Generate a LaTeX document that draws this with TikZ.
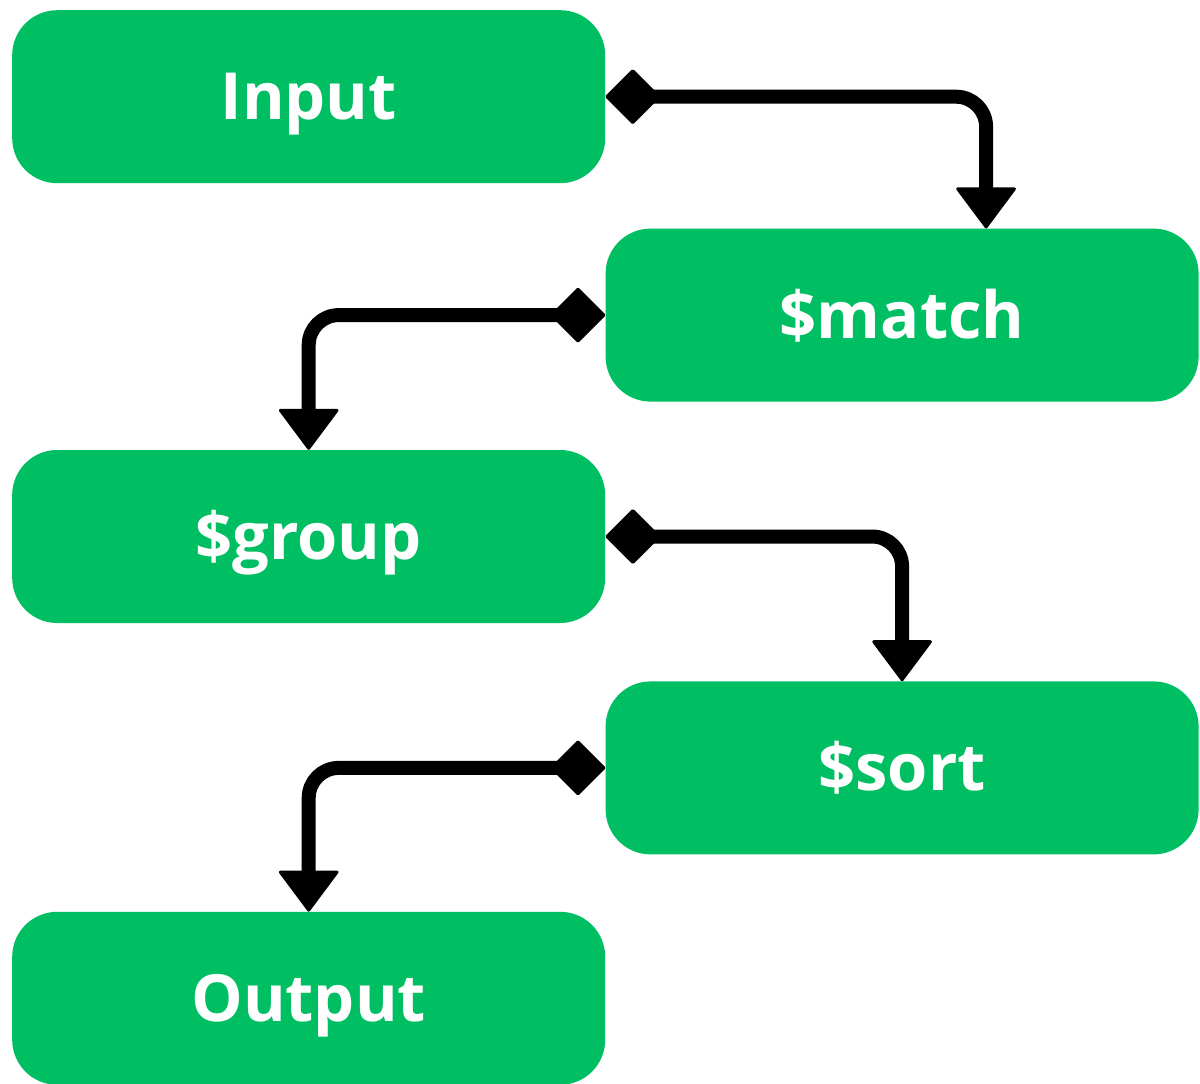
\documentclass[tikz,border=0pt]{standalone}
\usepackage{fontspec}
\setmainfont{Open Sans}
\usetikzlibrary{positioning,arrows.meta}
\definecolor{stagegreen}{RGB}{0,191,99}

\begin{document}
\begin{tikzpicture}[x=1pt, y=1pt,
		stage/.style={fill=stagegreen, rounded corners=45pt, minimum width=593pt,
					minimum height=173pt, inner sep=0pt, text=white, text height=46pt,
					text depth=0pt, font=\fontsize{65}{78}\selectfont\bfseries},
		flow/.style={line width=14pt, rounded corners=30pt,
					{Diamond[length=56pt, width=56pt, line width=3pt, round]}-{Triangle[length=42pt, width=62pt, line width=3pt, round]}}
	]
		\useasboundingbox (0,0) rectangle (1200,-1084);
		\node[stage, anchor=north west] (inp) at (12,-10) {Input};
		\node[stage, below right=45pt and 0pt of inp] (match) {\$match};
		\node[stage, below left=48pt and 0pt of match] (group) {\$group};
		\node[stage, below right=58pt and 0pt of group] (sort) {\$sort};
		\node[stage, below left=57pt and 0pt of sort] (out) {Output};

		\draw[flow] (inp.east) -| ([xshift=84pt]match.north);
		\draw[flow] (match.west) -| (group.north);
		\draw[flow] (group.east) -| (sort.north);
		\draw[flow] (sort.west) -| (out.north);
	\end{tikzpicture}
\end{document}
